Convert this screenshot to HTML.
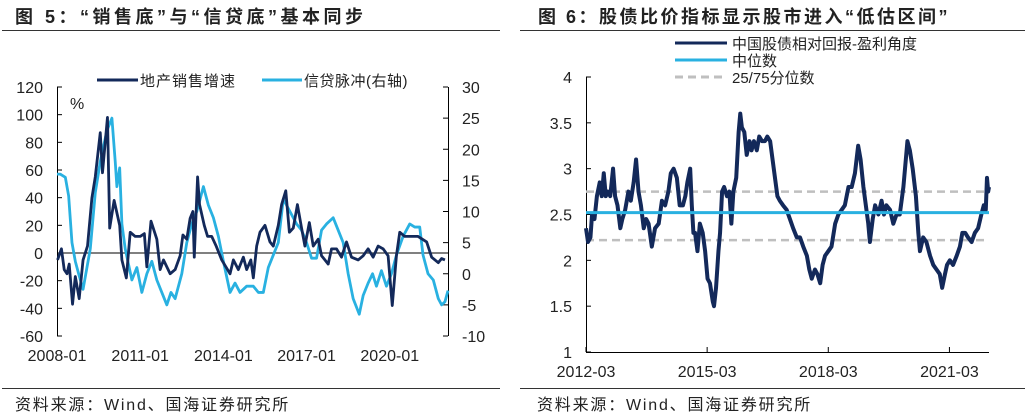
<!DOCTYPE html>
<html><head><meta charset="utf-8">
<style>
body{margin:0;background:#fff;width:1027px;height:418px;overflow:hidden;font-family:"Liberation Sans","Noto Sans CJK SC",sans-serif;}
svg{display:block}
</style></head>
<body>
<svg id="root" width="1027" height="418" xmlns="http://www.w3.org/2000/svg" font-family="Liberation Sans, Noto Sans CJK SC, sans-serif">
<text x="15" y="23" font-size="18" font-weight="bold" letter-spacing="3.5" fill="#222">图 5：“销售底”与“信贷底”基本同步</text>
<line x1="2" y1="30.5" x2="500" y2="30.5" stroke="#333" stroke-width="1"/>
<text x="538" y="23" font-size="18" font-weight="bold" letter-spacing="2.5" fill="#222">图 6：股债比价指标显示股市进入“低估区间”</text>
<line x1="520" y1="30.5" x2="1025" y2="30.5" stroke="#333" stroke-width="1"/>
<line x1="2" y1="388.5" x2="500" y2="388.5" stroke="#333" stroke-width="1"/>
<line x1="520" y1="388.5" x2="1025" y2="388.5" stroke="#333" stroke-width="1"/>
<text x="15" y="410" font-size="16" letter-spacing="1.8" fill="#222">资料来源：Wind、国海证券研究所</text>
<text x="537" y="410" font-size="16" letter-spacing="1.8" fill="#222">资料来源：Wind、国海证券研究所</text>
<g id="left"></g>
<g id="right"></g>
</svg>
<script>
// ---- Left chart data ----
const salesDates=[2008.02,2008.16,2008.26,2008.36,2008.44,2008.56,2008.66,2008.80,2008.94,2009.10,2009.26,2009.38,2009.56,2009.64,2009.82,2009.90,2010.06,2010.26,2010.34,2010.50,2010.64,2010.82,2011.00,2011.15,2011.24,2011.39,2011.60,2011.72,2011.84,2012.08,2012.26,2012.44,2012.54,2012.68,2012.80,2012.90,2012.95,2013.07,2013.14,2013.31,2013.43,2013.58,2013.74,2013.94,2014.24,2014.36,2014.54,2014.72,2014.84,2014.99,2015.08,2015.20,2015.32,2015.50,2015.68,2015.80,2015.98,2016.10,2016.25,2016.38,2016.52,2016.67,2016.82,2016.94,2017.10,2017.24,2017.42,2017.54,2017.66,2017.78,2017.90,2018.08,2018.26,2018.44,2018.62,2018.86,2019.04,2019.22,2019.40,2019.58,2019.76,2019.94,2020.09,2020.24,2020.36,2020.54,2020.78,2021.02,2021.33,2021.51,2021.75,2021.87,2021.99];
const salesValues=[-5,3,-12,-15,-8,-37,-17,-33,-5,5,40,55,87,58,98,18,38,20,-5,-18,15,12,12,14,-10,23,10,-12,-5,-15,-12,-2,13,10,25,30,-3,55,35,20,12,12,5,-5,-15,-5,-12,-3,-12,-5,-18,5,15,20,8,5,20,35,45,15,18,35,18,5,22,5,10,-2,-5,-8,3,3,-3,8,-3,-5,-2,3,-3,5,3,-2,-38,-2,15,12,12,12,8,-3,-7,-4,-5];
const creditDates=[2008.00,2008.12,2008.30,2008.42,2008.54,2008.66,2008.78,2008.94,2009.08,2009.20,2009.38,2009.56,2009.80,2009.98,2010.10,2010.16,2010.26,2010.34,2010.46,2010.58,2010.70,2010.88,2011.06,2011.24,2011.42,2011.60,2011.78,2011.96,2012.11,2012.26,2012.50,2012.68,2012.86,2013.04,2013.28,2013.46,2013.64,2013.82,2014.00,2014.24,2014.42,2014.60,2014.84,2015.08,2015.26,2015.44,2015.62,2015.80,2015.98,2016.16,2016.40,2016.64,2016.82,2017.00,2017.18,2017.36,2017.54,2017.72,2017.96,2018.14,2018.32,2018.50,2018.68,2018.90,2019.04,2019.22,2019.38,2019.52,2019.70,2019.88,2020.06,2020.24,2020.48,2020.72,2020.90,2021.08,2021.20,2021.38,2021.57,2021.75,2021.87,2021.99,2022.10];
const creditValues=[16,16,15.5,12.5,5,2,0,-2.5,1,4,13,18,23,25,18,14,17,8,4,1.5,-1,1,-3,0,2,-1,-3,-5,-3,-4,0,5,8,10,14,11,9,6,2,-3,-1.5,-3,-2,-2,-3,-3,1,3,5,12,10,8,7,5,2.5,2.5,7,8,9,7,5,0,-4,-6.5,-3.5,-1.5,0,-2,0.5,-2,0,3,6,8,7.5,7.5,3,0,-1,-4,-5,-4.5,-2.7];
const leftTicks=[120,100,80,60,40,20,0,-20,-40,-60];
const rightTicks=[30,25,20,15,10,5,0,-5,-10];
const leftXLabels=["2008-01","2011-01","2014-01","2017-01","2020-01"];
const leftXYears=[2008,2011,2014,2017,2020];
// ---- Right chart data ----
const ratioDates=[2012.17,2012.22,2012.28,2012.32,2012.38,2012.44,2012.51,2012.56,2012.61,2012.66,2012.71,2012.77,2012.84,2012.89,2012.95,2013.02,2013.07,2013.14,2013.22,2013.28,2013.35,2013.41,2013.47,2013.53,2013.60,2013.66,2013.72,2013.80,2013.88,2013.97,2014.05,2014.13,2014.21,2014.27,2014.34,2014.42,2014.49,2014.57,2014.63,2014.68,2014.75,2014.79,2014.83,2014.87,2014.93,2014.99,2015.06,2015.12,2015.18,2015.24,2015.31,2015.34,2015.39,2015.45,2015.49,2015.54,2015.59,2015.66,2015.72,2015.77,2015.82,2015.89,2015.95,2015.99,2016.03,2016.09,2016.15,2016.22,2016.27,2016.33,2016.40,2016.46,2016.53,2016.60,2016.66,2016.73,2016.79,2016.85,2016.91,2016.97,2017.05,2017.14,2017.22,2017.30,2017.39,2017.47,2017.55,2017.64,2017.70,2017.76,2017.84,2017.90,2017.97,2018.03,2018.09,2018.17,2018.25,2018.34,2018.42,2018.50,2018.58,2018.67,2018.75,2018.83,2018.91,2018.97,2019.04,2019.10,2019.16,2019.20,2019.27,2019.33,2019.41,2019.49,2019.55,2019.61,2019.70,2019.78,2019.86,2019.94,2020.03,2020.09,2020.13,2020.19,2020.26,2020.34,2020.40,2020.44,2020.52,2020.60,2020.69,2020.77,2020.85,2020.93,2020.99,2021.06,2021.11,2021.18,2021.26,2021.35,2021.43,2021.49,2021.56,2021.63,2021.72,2021.80,2021.88,2021.96,2022.02,2022.07,2022.10,2022.13,2022.15];
const ratioValues=[2.35,2.2,2.25,2.5,2.45,2.7,2.85,2.7,2.95,2.7,2.75,2.7,3.0,2.7,2.6,2.35,2.45,2.55,2.75,2.65,2.85,3.1,2.75,2.6,2.35,2.45,2.4,2.15,2.35,2.4,2.65,2.6,2.75,2.95,3.0,2.9,2.6,2.6,2.7,2.85,3.0,2.6,2.3,2.3,2.1,2.4,2.3,2.1,1.8,1.75,1.55,1.5,1.7,2.1,2.3,2.75,2.8,2.7,2.75,2.4,2.75,2.9,3.4,3.6,3.45,3.4,3.15,3.3,3.2,3.3,3.2,3.35,3.3,3.3,3.35,3.3,3.1,2.9,2.7,2.65,2.6,2.55,2.45,2.35,2.25,2.25,2.15,2.05,1.9,1.8,1.9,1.85,1.75,1.95,2.05,2.1,2.15,2.4,2.5,2.55,2.6,2.8,2.8,2.95,3.25,3.1,2.8,2.6,2.4,2.2,2.45,2.6,2.5,2.65,2.5,2.6,2.55,2.4,2.5,2.5,2.8,3.1,3.3,3.2,3.0,2.7,2.3,2.1,2.25,2.2,2.05,1.95,1.9,1.85,1.7,1.85,1.95,2.0,1.95,2.05,2.15,2.3,2.3,2.25,2.2,2.3,2.35,2.5,2.6,2.55,2.9,2.75,2.8];
const medianValue=[2.52];
const quartileValues=[2.22,2.75];
const ratioTicks=[4,3.5,3,2.5,2,1.5,1];
const rightXLabels=["2012-03","2015-03","2018-03","2021-03"];
const rightXYears=[2012.17,2015.17,2018.17,2021.17];

const NS="http://www.w3.org/2000/svg";
function mk(parent,tag,attrs,text){const e=document.createElementNS(NS,tag);for(const k in attrs)e.setAttribute(k,attrs[k]);if(text!==undefined)e.textContent=text;parent.appendChild(e);return e;}

// ===== Left chart =====
const L=document.getElementById('left');
const lx0=57,lx1=448,ly0=87,ly1=336;
const xL=y=>lx0+(y-2008)*(lx1-lx0)/14.1;
const yL=v=>ly0+(120-v)*(ly1-ly0)/180;
const yR=v=>ly0+(30-v)*(ly1-ly0)/40;
let e;
e=mk(L,'line',{x1:lx0+0.5,y1:ly0,x2:lx0+0.5,y2:ly1,stroke:'#000','stroke-width':1});


e=mk(L,'line',{x1:lx1+0.5,y1:ly0,x2:lx1+0.5,y2:ly1,stroke:'#000','stroke-width':1});


e=mk(L,'line',{x1:lx0,y1:yL(0),x2:lx1,y2:yL(0),stroke:'#000','stroke-width':1});


leftTicks.forEach(t=>{
  mk(L,'line',{x1:lx0,y1:yL(t),x2:lx0+5,y2:yL(t),stroke:'#000'});
  e=mk(L,'text',{x:43,y:yL(t)+6,'font-size':16,'text-anchor':'end',fill:'#222'},String(t));
  
  
});
rightTicks.forEach(t=>{
  mk(L,'line',{x1:lx1-5,y1:yR(t),x2:lx1,y2:yR(t),stroke:'#000'});
  e=mk(L,'text',{x:462,y:yR(t)+6,'font-size':16,fill:'#222'},String(t));
  
  
});
leftXLabels.forEach((s,i)=>{
  e=mk(L,'text',{x:xL(leftXYears[i]),y:361,'font-size':16,'text-anchor':'middle',fill:'#222'},s);
  
  
});
e=mk(L,'text',{x:70,y:109,'font-size':16,fill:'#222'},'%');


e=mk(L,'polyline',{points:creditDates.map((d,i)=>xL(d)+','+yR(creditValues[i])).join(' '),fill:'none',stroke:'#29b1e1','stroke-width':2.8,'stroke-linejoin':'round'});


e=mk(L,'polyline',{points:salesDates.map((d,i)=>xL(d)+','+yL(salesValues[i])).join(' '),fill:'none',stroke:'#13295a','stroke-width':2.8,'stroke-linejoin':'round'});


e=mk(L,'line',{x1:97,y1:80,x2:138,y2:80,stroke:'#13295a','stroke-width':3});


e=mk(L,'text',{x:140,y:86,'font-size':15,'letter-spacing':1,fill:'#222'},'地产销售增速');


e=mk(L,'line',{x1:262,y1:80,x2:302,y2:80,stroke:'#29b1e1','stroke-width':3});


e=mk(L,'text',{x:304,y:86,'font-size':15,'letter-spacing':0.5,fill:'#222'},'信贷脉冲(右轴)');



// ===== Right chart =====
const R=document.getElementById('right');
const rx0=586,rx1=989,ry0=77,ry1=352;
const xR=y=>rx0+(y-2012.17)*(rx1-rx0)/(2022.15-2012.17);
const yV=v=>ry0+(4-v)*(ry1-ry0)/3;
e=mk(R,'line',{x1:rx0+0.5,y1:ry0,x2:rx0+0.5,y2:ry1,stroke:'#000'});


e=mk(R,'line',{x1:rx0,y1:ry1+0.5,x2:rx1,y2:ry1+0.5,stroke:'#000'});


ratioTicks.forEach(t=>{
  mk(R,'line',{x1:rx0,y1:yV(t),x2:rx0+5,y2:yV(t),stroke:'#000'});
  e=mk(R,'text',{x:572,y:yV(t)+6,'font-size':16,'text-anchor':'end',fill:'#222'},String(t));
  
  
});
rightXLabels.forEach((s,i)=>{
  const x=xR(rightXYears[i]);
  mk(R,'line',{x1:x,y1:ry1-5,x2:x,y2:ry1,stroke:'#000'});
  e=mk(R,'text',{x:x,y:377,'font-size':16,'text-anchor':'middle',fill:'#222'},s);
  
  
});
quartileValues.forEach(q=>{
  e=mk(R,'line',{x1:rx0,y1:yV(q),x2:rx1,y2:yV(q),stroke:'#bfbfbf','stroke-width':2.5,'stroke-dasharray':'8 5'});
  
  
});
e=mk(R,'polyline',{points:ratioDates.map((d,i)=>xR(d)+','+yV(ratioValues[i])).join(' '),fill:'none',stroke:'#13295a','stroke-width':4,'stroke-linejoin':'round'});


e=mk(R,'line',{x1:rx0,y1:yV(medianValue[0]),x2:rx1,y2:yV(medianValue[0]),stroke:'#29b1e1','stroke-width':3});


const leg=[['#13295a','','中国股债相对回报-盈利角度',43],['#29b1e1','','中位数',60],['#bfbfbf','8 5','25/75分位数',77]];
leg.forEach(l=>{
  e=mk(R,'line',{x1:675,y1:l[3],x2:727,y2:l[3],stroke:l[0],'stroke-width':3,'stroke-dasharray':l[1]||'none'});
  
  
  e=mk(R,'text',{x:732,y:l[3]+6,'font-size':15,fill:'#222'},l[2]);
  
  
});
</script>
</body></html>
